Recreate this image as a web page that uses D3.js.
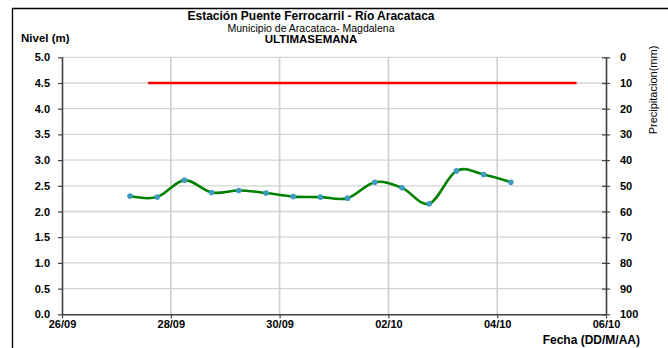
<!DOCTYPE html>
<html><head><meta charset="utf-8">
<script src="https://cdn.jsdelivr.net/npm/d3@7"></script>
<style>
body{margin:0;background:#fff;}
text{font-family:"Liberation Sans",Arial,sans-serif;}
</style></head>
<body><svg id="c" width="668" height="348"></svg>
<script>
const titles = ["Estación Puente Ferrocarril - Río Aracataca", "Municipio de Aracataca- Magdalena", "ULTIMASEMANA"];
const times = ["2012-09-27 06:00","2012-09-27 18:00","2012-09-28 06:00","2012-09-28 18:00","2012-09-29 06:00","2012-09-29 18:00","2012-09-30 06:00","2012-09-30 18:00","2012-10-01 06:00","2012-10-01 18:00","2012-10-02 06:00","2012-10-02 18:00","2012-10-03 06:00","2012-10-03 18:00","2012-10-04 06:00"];
const nivel = [2.30,2.28,2.61,2.37,2.41,2.36,2.29,2.28,2.26,2.57,2.46,2.15,2.79,2.72,2.57];
const alertTimes = ["2012-09-27 14:00","2012-10-05 11:00"];
const alertLevel = 4.5;
const xTickDates = ["2012-09-26","2012-09-28","2012-09-30","2012-10-02","2012-10-04","2012-10-06"];
const yTicks = [0,0.5,1,1.5,2,2.5,3,3.5,4,4.5,5];
const precipTicks = [0,10,20,30,40,50,60,70,80,90,100];

const svg = d3.select("#c");
const L=62, R=606, T=57.3, B=314.3;
const parseT = d3.timeParse("%Y-%m-%d %H:%M");
const parseD = d3.timeParse("%Y-%m-%d");
const x = d3.scaleTime().domain([parseD(xTickDates[0]), parseD(xTickDates[xTickDates.length-1])]).range([L,R]);
const y = d3.scaleLinear().domain([0,5]).range([B,T]);
const y2 = d3.scaleLinear().domain([0,100]).range([T,B]);

// frame
svg.append("path").attr("d","M12.5,348 V8.5 H668").attr("fill","none").attr("stroke","#000").attr("stroke-width",1.3);

// grid
const g = svg.append("g");
g.selectAll(".hg").data(yTicks.filter(d=>d>0)).join("line")
  .attr("x1",L).attr("x2",R).attr("y1",d=>y(d)).attr("y2",d=>y(d))
  .attr("stroke","#d4d4d4").attr("stroke-width",1.3);
g.selectAll(".vg").data(xTickDates.slice(1,-1).map(parseD)).join("line")
  .attr("x1",d=>x(d)).attr("x2",d=>x(d)).attr("y1",T).attr("y2",B)
  .attr("stroke","#cfcfcf").attr("stroke-width",1.6);

// axes
const fmt = d3.timeFormat("%d/%m");
const ax = svg.append("g").attr("transform",`translate(0,${B})`)
  .call(d3.axisBottom(x).tickValues(xTickDates.map(parseD)).tickFormat(fmt).tickSize(4).tickPadding(2));
const ay = svg.append("g").attr("transform",`translate(${L},0)`)
  .call(d3.axisLeft(y).tickValues(yTicks).tickFormat(d3.format(".1f")).tickSize(4).tickPadding(8));
const ay2 = svg.append("g").attr("transform",`translate(${R},0)`)
  .call(d3.axisRight(y2).tickValues(precipTicks).tickSize(4).tickPadding(10));
ay2.selectAll(".tick line").attr("x1",-4);
[ax,ay,ay2].forEach(a=>{
  a.select(".domain").attr("stroke","#404040").attr("stroke-width",1.6);
  a.selectAll(".tick line").attr("stroke","#404040").attr("stroke-width",1.2);
  a.selectAll("text").attr("font-size",11).attr("font-weight","bold").attr("fill","#000")
   .style("font-family","'Liberation Sans',Arial,sans-serif");
});
ax.select(".domain").attr("d",`M${L},0.5H${R}`);
ay.select(".domain").attr("d",`M0.5,${B}V${T}`);
ay2.select(".domain").attr("d",`M0.5,${T}V${B}`);

// alert line
svg.append("line")
  .attr("x1",x(parseT(alertTimes[0]))).attr("x2",x(parseT(alertTimes[1])))
  .attr("y1",y(alertLevel)).attr("y2",y(alertLevel))
  .attr("stroke","#ff0000").attr("stroke-width",2.5);

// series
const pts = times.map((t,i)=>({t:parseT(t),v:nivel[i]}));
svg.append("path").datum(pts)
  .attr("d",d3.line().x(d=>x(d.t)).y(d=>y(d.v)).curve(d3.curveCatmullRom.alpha(0)))
  .attr("fill","none").attr("stroke","#008000").attr("stroke-width",2.6);
svg.selectAll(".pt").data(pts).join("circle")
  .attr("cx",d=>x(d.t)).attr("cy",d=>y(d.v)).attr("r",2.8)
  .attr("fill","#3d9ac0");

// titles
const tcx = 311;
svg.append("text").attr("x",tcx).attr("y",20).attr("text-anchor","middle")
  .attr("font-size",12).attr("font-weight","bold").text(titles[0]);
svg.append("text").attr("x",tcx).attr("y",31.5).attr("text-anchor","middle")
  .attr("font-size",10.5).attr("fill","#000").text(titles[1]);
svg.append("text").attr("x",tcx).attr("y",43).attr("text-anchor","middle")
  .attr("font-size",11.5).attr("font-weight","bold").text(titles[2]);
svg.append("text").attr("x",21).attr("y",42)
  .attr("font-size",11.5).attr("font-weight","bold").text("Nivel (m)");
svg.append("text").attr("transform","translate(657,90) rotate(-90)").attr("text-anchor","middle")
  .attr("font-size",11).text("Precipitacion(mm)");
svg.append("text").attr("x",640).attr("y",344).attr("text-anchor","end")
  .attr("font-size",12).attr("font-weight","bold").text("Fecha (DD/M/AA)");
</script></body></html>
